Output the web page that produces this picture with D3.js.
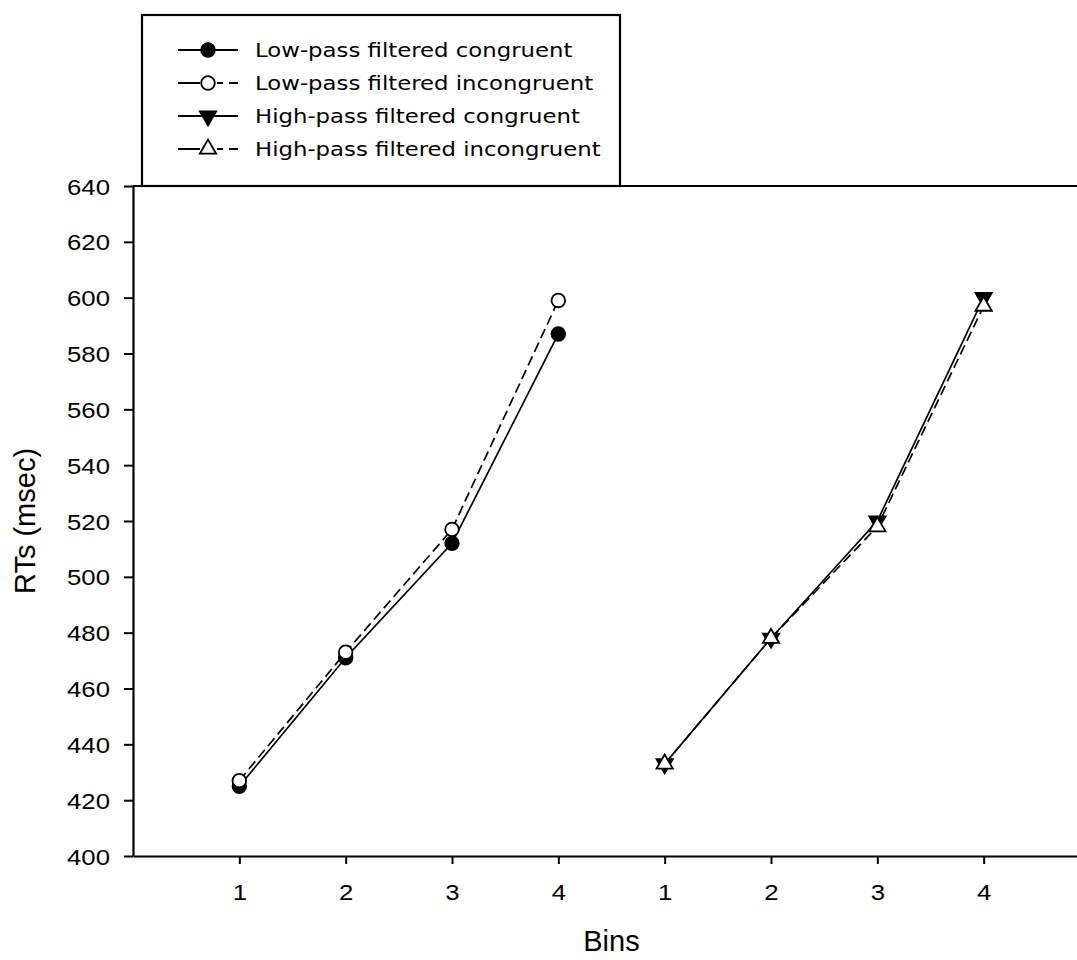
<!DOCTYPE html>
<html>
<head>
  <script src="https://d3js.org/d3.v7.min.js"></script>
  <style>
    html, body { margin: 0; padding: 0; background: #fff; overflow: hidden; }
    svg { display: block; background: #fff; }
    .legend text { font-family: "DejaVu Sans", Verdana, sans-serif; font-size: 20px; fill: #000; }
    .title { font-family: "Liberation Sans", Arial, sans-serif; font-size: 29px; fill: #000; }
  </style>
</head>
<body>
  <svg></svg>
  <script>
    // x positions: left block = low-pass bins, right block = high-pass bins
    var binLabels = ["1", "2", "3", "4", "1", "2", "3", "4"];
    var lowBins = [1, 2, 3, 4];
    var highBins = [5, 6, 7, 8];
    var yTicks = [400, 420, 440, 460, 480, 500, 520, 540, 560, 580, 600, 620, 640];

    // RTs (msec)
    var lowCongruent = [425, 471, 512, 587];
    var lowIncongruent = [427, 473, 517, 599];
    var highCongruent = [433, 478, 520, 600];
    var highIncongruent = [433, 478, 518, 597];

    var seriesNames = ["Low-pass filtered congruent", "Low-pass filtered incongruent",
                       "High-pass filtered congruent", "High-pass filtered incongruent"];

    (function() {
      var width = 1077, height = 960;
      var plotLeft = 133, plotTop = 186, plotBottom = 856;

      var series = [
        {name: seriesNames[0], bins: lowBins, values: lowCongruent, dashed: false, marker: "circle", filled: true},
        {name: seriesNames[1], bins: lowBins, values: lowIncongruent, dashed: true, marker: "circle", filled: false},
        {name: seriesNames[2], bins: highBins, values: highCongruent, dashed: false, marker: "down", filled: true},
        {name: seriesNames[3], bins: highBins, values: highIncongruent, dashed: true, marker: "up", filled: false}
      ];

      var svg = d3.select("svg").attr("width", width).attr("height", height);

      var x = d3.scaleLinear().domain([0, 9]).range([plotLeft, 1090]);
      var y = d3.scaleLinear().domain([400, 640]).range([plotBottom, plotTop]);

      // axes
      var yAxis = svg.append("g")
        .attr("transform", "translate(" + plotLeft + ",0)")
        .call(d3.axisLeft(y).tickValues(yTicks).tickSize(9).tickSizeOuter(0).tickPadding(0));
      yAxis.selectAll("text")
        .attr("font-family", "Liberation Sans, Arial, sans-serif")
        .attr("font-size", 23).attr("fill", "#000")
        .attr("text-anchor", "end")
        .attr("x", 0).attr("dy", "0.35em")
        .attr("transform", "translate(-23,0) scale(1.12,1)");

      var xAxis = svg.append("g")
        .attr("transform", "translate(0," + plotBottom + ")")
        .call(d3.axisBottom(x).tickValues(d3.range(1, 9))
          .tickFormat(function(d) { return binLabels[d - 1]; })
          .tickSize(8).tickSizeOuter(0));
      xAxis.selectAll("text")
        .attr("font-family", "Liberation Sans, Arial, sans-serif")
        .attr("font-size", 23).attr("fill", "#000")
        .attr("y", 0).attr("dy", "0.71em")
        .attr("transform", "translate(0,28) scale(1.12,1)");

      svg.selectAll(".domain").attr("stroke", "#000").attr("stroke-width", 2.2);
      svg.selectAll(".tick line").attr("stroke", "#000").attr("stroke-width", 2);

      // top frame line
      svg.append("line")
        .attr("x1", plotLeft).attr("x2", width)
        .attr("y1", plotTop).attr("y2", plotTop)
        .attr("stroke", "#000").attr("stroke-width", 2.2);

      // axis titles
      svg.append("text").attr("class", "title")
        .attr("x", x(4.5)).attr("y", 951)
        .attr("text-anchor", "middle")
        .text("Bins");
      svg.append("text").attr("class", "title")
        .attr("transform", "translate(35," + y(520) + ") rotate(-90)")
        .attr("text-anchor", "middle")
        .text("RTs (msec)");

      function drawMarker(g, s, cx, cy) {
        var fill = s.filled ? "#000" : "#fff";
        if (s.marker === "circle") {
          g.append("circle")
            .attr("cx", cx).attr("cy", cy).attr("r", 6.8)
            .attr("fill", fill).attr("stroke", "#000").attr("stroke-width", 1.8);
        } else {
          g.append("path")
            .attr("d", d3.symbol().type(d3.symbolTriangle).size(115)())
            .attr("transform", "translate(" + cx + "," + cy + ")" + (s.marker === "down" ? " rotate(180)" : ""))
            .attr("fill", fill).attr("stroke", "#000").attr("stroke-width", 1.8);
        }
      }

      var line = d3.line()
        .x(function(d) { return x(d[0]); })
        .y(function(d) { return y(d[1]); });

      series.forEach(function(s) {
        var g = svg.append("g");
        var pts = s.bins.map(function(b, i) { return [b, s.values[i]]; });
        g.append("path")
          .attr("d", line(pts))
          .attr("fill", "none")
          .attr("stroke", "#000")
          .attr("stroke-width", 1.7)
          .attr("stroke-dasharray", s.dashed ? "10,5" : null);
        pts.forEach(function(p) { drawMarker(g, s, x(p[0]), y(p[1])); });
      });

      // legend
      var legend = svg.append("g").attr("class", "legend");
      legend.append("rect")
        .attr("x", 142).attr("y", 15).attr("width", 478).attr("height", 171)
        .attr("fill", "#fff").attr("stroke", "#000").attr("stroke-width", 2.2);

      series.forEach(function(s, i) {
        var ly = 50 + i * 33;
        legend.append("line")
          .attr("x1", 178).attr("x2", 238).attr("y1", ly).attr("y2", ly)
          .attr("stroke", "#000").attr("stroke-width", 2)
          .attr("stroke-dasharray", s.dashed ? "22,17,6,6,10" : null);
        drawMarker(legend, s, 208, ly);
        legend.append("text")
          .attr("transform", "translate(255," + (ly + 7) + ") scale(1.14,1)")
          .text(s.name);
      });
    })();
  </script>
</body>
</html>
